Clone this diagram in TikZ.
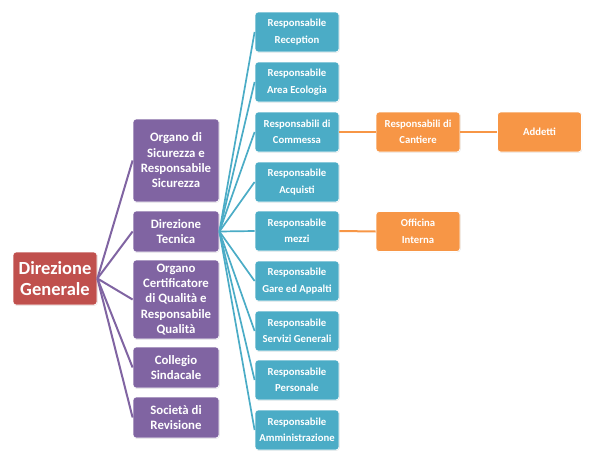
\documentclass[tikz,border=0pt]{standalone}
\usepackage{fontspec}
\setmainfont{Carlito}
\usetikzlibrary{shadows}
\definecolor{cRed}{HTML}{C0504D}
\definecolor{cPurple}{HTML}{8064A2}
\definecolor{cBlue}{HTML}{4BACC6}
\definecolor{cOrange}{HTML}{F79646}
\tikzset{
  box/.style={draw=white, line width=0.8pt, rounded corners=3pt, text=white, align=center, inner sep=0pt,
    drop shadow={shadow xshift=0.6pt, shadow yshift=-0.6pt, opacity=0.25}},
  redbox/.style={box, fill=cRed, minimum width=84pt, minimum height=53pt,
    font=\fontsize{18.5}{21}\selectfont\bfseries},
  purplebox/.style={box, fill=cPurple, minimum width=86pt,
    font=\fontsize{12.8}{15.3}\selectfont\bfseries},
  bluebox/.style={box, fill=cBlue, minimum width=84pt, minimum height=40pt,
    font=\fontsize{10.7}{16.5}\selectfont\bfseries},
  orangebox/.style={box, fill=cOrange, minimum width=84pt, minimum height=40pt,
    font=\fontsize{10.7}{16.5}\selectfont\bfseries},
  pline/.style={draw=cPurple, line width=2pt},
  bline/.style={draw=cBlue, line width=1.7pt},
  oline/.style={draw=cOrange, line width=2pt},
}
\begin{document}
\begin{tikzpicture}[x=1pt, y=-1pt]
\useasboundingbox (0,0) rectangle (590,461);
% main
\node[redbox] (dg) at (55,278.5) {Direzione\\Generale};
% purple
\node[purplebox, minimum height=83pt] (p1) at (176,160.5) {Organo di\\Sicurezza e\\Responsabile\\Sicurezza};
\node[purplebox, minimum height=41pt] (p2) at (176,231.5) {Direzione\\Tecnica};
\node[purplebox, minimum height=79pt] (p3) at (176,299.5) {Organo\\Certificatore\\di Qualità e\\Responsabile\\Qualità};
\node[purplebox, minimum height=41pt] (p4) at (176,367.5) {Collegio\\Sindacale};
\node[purplebox, minimum height=41pt] (p5) at (176,417.5) {Società di\\Revisione};
% blue
\node[bluebox] (b1) at (297,32) {Responsabile\\Reception};
\node[bluebox] (b2) at (297,82) {Responsabile\\Area Ecologia};
\node[bluebox] (b3) at (297,132) {Responsabili di\\Commessa};
\node[bluebox] (b4) at (297,182) {Responsabile\\Acquisti};
\node[bluebox] (b5) at (297,231) {Responsabile\\mezzi};
\node[bluebox] (b6) at (297,281) {Responsabile\\Gare ed Appalti};
\node[bluebox] (b7) at (297,331) {Responsabile\\Servizi Generali};
\node[bluebox] (b8) at (297,380) {Responsabile\\Personale};
\node[bluebox] (b9) at (297,430) {Responsabile\\Amministrazione};
% orange
\node[orangebox] (o1) at (418,132) {Responsabili di\\Cantiere};
\node[orangebox] (o2) at (539.5,132) {Addetti};
\node[orangebox] (o3) at (418,231.5) {Officina\\Interna};
% connectors
\foreach \p in {p1,p2,p3,p4,p5} \draw[pline] (dg.east) -- (\p.west);
\foreach \b in {b1,b2,b3,b4,b5,b6,b7,b8,b9} \draw[bline] (p2.east) -- (\b.west);
\draw[oline] (b3.east) -- (o1.west);
\draw[oline] (o1.east) -- (o2.west);
\draw[oline] (b5.east) -- (o3.west);
\end{tikzpicture}
\end{document}
